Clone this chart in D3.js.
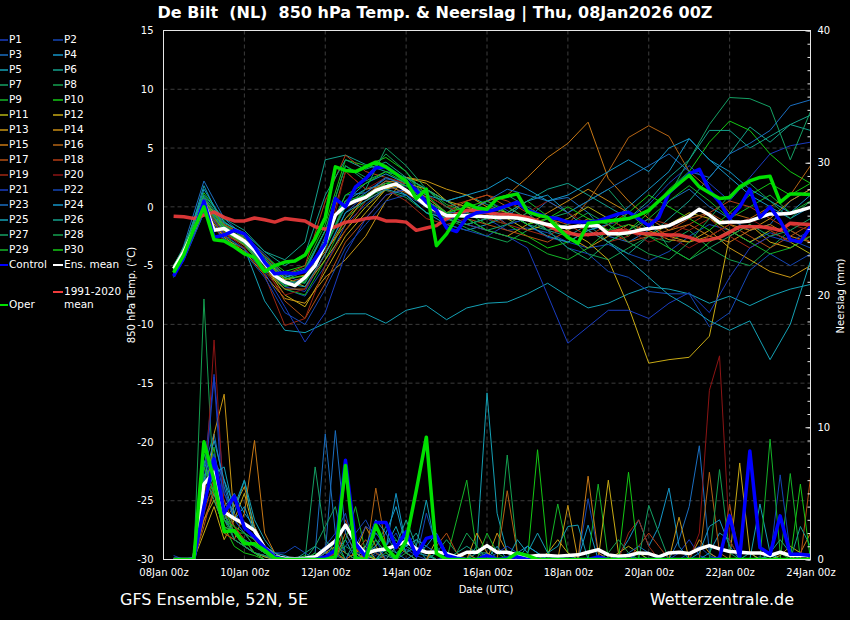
<!DOCTYPE html>
<html>
<head>
<meta charset="utf-8">
<script src="https://cdn.jsdelivr.net/npm/d3@7"></script>
<style>
  body { margin: 0; background: #000; }
  text { font-family: "DejaVu Sans", sans-serif; fill: #fff; }
</style>
</head>
<body>
<svg id="chart" width="850" height="620"></svg>
<script>
// run 08Jan2026 00Z, values every 6 h from +6 h to +384 h
const runStart = Date.UTC(2026, 0, 8, 0)
const stepHours = d3.range(6, 385, 6)
const memberHours = [6].concat(d3.range(12, 385, 12))
const xTickDays = d3.range(0, 17, 2)
const tempTicks = d3.range(-30, 16, 5)
const precipTicks = [0, 10, 20, 30, 40]

const memberNames = d3.range(1, 31).map(n => "P" + n)
const memberColors = ["#1a3cc0", "#1446b4", "#1a6ec0", "#1496c8", "#14a0b4", "#14a08c", "#14a064", "#14a050", "#14b428", "#14c814",
  "#b4b414", "#c8aa14", "#c89614", "#c88c14", "#c87814", "#b46414", "#b45014", "#b43c14", "#a02814", "#8c1414"]

const controlTemp = [-5.9,-4.3,-2.0,0.5,-2.6,-2.4,-2.0,-2.3,-3.4,-4.7,-5.7,-5.6,-5.7,-5.5,-4.4,-3.1,0.7,0.0,1.7,2.4,3.3,3.4,2.8,2.2,1.4,0.4,-0.3,-1.8,-2.1,-0.9,-0.5,-0.4,-0.2,0.1,0.4,-0.3,-0.6,-0.9,-1.0,-1.3,-1.3,-1.3,-1.2,-0.9,-0.6,-0.45,-1.0,-1.6,-0.9,1.2,2.0,2.8,3.2,1.4,0.4,-1.0,0.0,1.5,-0.9,0.0,-1.2,-2.8,-3.0,-1.7]
const operTemp = [-5.6,-4.1,-1.9,0.0,-2.8,-2.9,-3.4,-4.0,-4.3,-5.5,-5.0,-4.7,-4.6,-4.1,-2.7,-0.9,3.4,3.1,3.0,3.4,3.8,3.4,2.8,2.2,0.7,1.5,-3.3,-2.3,-0.9,0.3,-0.1,-0.2,0.7,0.9,1.1,-0.4,-0.7,-0.9,-1.8,-2.6,-3.1,-1.4,-1.3,-1.2,-1.1,-1.0,-0.7,-0.3,0.5,1.25,2.0,2.7,1.7,1.2,0.7,0.8,1.7,2.2,2.5,2.6,0.4,1.1,1.1,1.05]
const meanTemp = [-5.25,-3.85,-2.0,0.4,-2.0,-1.85,-2.4,-2.9,-3.7,-4.8,-5.85,-6.4,-6.7,-6.0,-5.0,-3.1,-0.7,0.1,0.5,0.8,1.4,1.7,1.95,1.4,0.8,0.1,-0.3,-0.75,-0.75,-0.75,-0.8,-0.85,-0.9,-0.9,-0.95,-1.1,-1.3,-1.5,-1.7,-1.75,-1.65,-1.6,-1.6,-2.3,-2.3,-2.2,-2.0,-1.85,-1.75,-1.6,-1.2,-0.8,-0.2,-0.7,-1.35,-1.3,-1.3,-1.2,-0.9,-0.6,-0.6,-0.55,-0.3,-0.05]
const climateTemp = [-0.8,-0.85,-1.0,-0.7,-0.45,-0.9,-1.2,-1.2,-0.95,-1.1,-1.3,-1.0,-1.1,-1.2,-1.7,-1.9,-1.7,-1.3,-1.2,-1.0,-0.9,-1.2,-1.2,-1.3,-2.0,-1.8,-1.6,-1.0,-0.6,-0.3,-0.35,-0.5,-0.6,-0.65,-0.75,-0.9,-1.2,-1.6,-2.0,-2.2,-2.4,-2.35,-2.3,-2.2,-2.0,-2.1,-2.25,-2.3,-2.35,-2.4,-2.4,-2.6,-2.9,-2.8,-2.6,-2.15,-1.7,-1.7,-1.7,-1.8,-2.0,-1.4,-1.45,-1.5]

const controlPrecip = [0,0,0,4.0,7.6,3.5,4.8,2.4,1.7,0.9,0.2,0,0,0,0,0.2,0.7,7.5,1.2,0.2,2.8,2.8,0.9,2.1,0.3,1.6,1.8,0.3,0.1,0,0,0.3,0,0.1,0.2,0,0,0,0,0,0,0,0.2,0,0,0,0,0,0,0,0,0,0,0,0.1,3.3,0.15,8.2,0.9,0.4,3.3,0.4,0.4,0.3]
const operPrecip = [0,0,0,8.9,6.0,2.1,2.2,1.2,1.2,0.7,0.1,0,0,0,0,0,0.2,7.1,0.1,0,2.6,0.9,0.1,1.4,5.2,9.25,0.45,0,0,0,0,0,0,0,0.5,0.3,0,0,0,0,0,0,0,0,0,0,0,0,0,0,0,0,0,0,0,0,0,0,0,0,0,0,0,0]
const meanPrecip = [0,0,0,5.7,6.6,3.6,3.1,2.7,2.2,0.9,0.2,0.1,0.05,0.1,0.2,0.8,1.4,2.6,1.3,0.45,0.7,0.8,1.05,1.4,0.8,0.55,0.55,0.45,0.2,0.55,0.55,1.05,0.55,0.55,0.35,0.2,0.3,0.3,0.25,0.3,0.35,0.55,0.75,0.35,0.25,0.3,0.5,0.45,0.2,0.5,0.55,0.45,0.8,1.05,0.8,0.6,0.55,0.5,0.5,0.3,0.55,0.3,0.3,0.3]

// P1..P30, 850 hPa temperature at memberHours
const memberTemp = [
  [-5.9,-4.3,0.3,-2.0,-2.6,-4.5,-6.8,-7.2,-4.0,-0.5,1.0,2.2,1.5,0.0,-1.2,-0.5,0.5,-0.3,-1.5,-2.6,-3.0,-2.0,-1.5,-1.0,0.2,2.0,3.5,2.0,0.5,2.5,4.5,5.2,5.5],
  [-5.6,-4.0,0.8,-2.3,-3.2,-5.0,-7.0,-7.6,-5.0,-1.5,0.2,1.5,1.8,0.8,-0.5,-1.5,-1.0,-2.0,-1.8,-2.2,-3.0,-3.5,-3.2,-4.0,-4.6,-3.8,-2.5,-1.5,-2.0,-3.0,-2.2,-2.8,-3.5],
  [-5.5,-3.3,2.2,-1.0,-2.5,-4.0,-5.8,-6.5,-2.5,1.0,1.2,2.4,2.0,0.5,-1.0,-0.4,-0.2,-1.5,-1.0,0.5,0.8,-0.5,-2.5,-3.0,-2.0,0.5,1.5,0.0,-1.0,-2.0,-1.5,0.5,1.5],
  [-5.0,-3.6,0.5,-1.5,-3.0,-5.5,-6.0,-5.5,-2.0,0.5,1.5,2.0,1.0,-0.5,-1.5,-2.0,-1.5,-0.8,0.5,1.0,-0.5,-2.0,-1.5,0.0,1.5,3.0,5.8,4.0,3.0,1.5,0.5,-0.5,1.0],
  [-6.0,-4.5,-0.5,-2.8,-3.5,-8.0,-10.5,-10.7,-9.9,-9.1,-9.1,-9.9,-8.8,-8.4,-9.6,-8.6,-8.2,-8.1,-7.4,-6.5,-7.6,-8.6,-8.2,-7.4,-6.8,-7.0,-7.4,-8.2,-7.6,-8.4,-7.6,-7.0,-6.6],
  [-5.3,-3.5,0.9,-1.4,-2.2,-3.8,-4.5,-3.0,4.0,4.4,3.6,3.0,2.5,1.5,0.5,1.0,0.2,-0.5,-1.5,-2.0,-2.5,-1.5,-3.0,-4.0,-2.5,-1.0,0.5,2.5,4.5,6.8,5.5,7.0,7.8],
  [-5.4,-3.8,0.2,-2.2,-3.0,-4.6,-6.2,-5.5,-2.0,3.5,2.2,3.0,2.5,1.0,0.0,-0.5,0.5,1.0,0.0,-1.0,-0.5,0.5,1.5,-0.5,-2.0,1.0,4.0,7.0,9.3,9.2,8.5,4.0,8.1],
  [-5.2,-3.9,0.6,-1.7,-3.3,-5.2,-6.8,-6.3,-3.5,0.3,1.0,1.4,0.8,-0.5,-1.0,-1.8,-2.5,-3.0,-2.0,-1.0,-2.5,-4.0,-4.5,-3.5,-2.5,-3.0,-2.0,-3.5,-4.5,-5.0,-3.5,-2.0,-3.0],
  [-5.5,-4.0,0.0,-2.5,-3.6,-5.5,-7.0,-7.5,-4.5,-1.0,0.5,2.0,2.5,1.5,0.2,-0.5,-1.5,-0.5,0.5,-0.8,-2.0,-1.0,-1.5,-2.5,-1.0,0.5,1.8,0.5,-1.0,0.0,1.0,-0.5,0.5],
  [-5.0,-3.5,1.2,-1.2,-2.8,-4.2,-5.5,-5.0,-1.5,4.0,3.5,4.2,3.0,1.0,-0.5,0.0,-1.0,-1.5,-2.5,-3.5,-3.0,-2.0,-3.0,-2.0,-0.5,1.5,3.0,5.5,7.3,6.5,4.5,3.0,2.0],
  [-5.3,-3.7,0.5,-1.5,-2.5,-4.5,-6.0,-6.8,-4.5,-2.0,0.0,1.5,2.0,1.5,0.5,0.0,-0.5,-1.0,-2.0,-1.5,-1.0,0.0,-1.0,-2.0,-2.5,-1.5,-0.5,-1.0,-2.0,-3.0,-2.0,-3.0,-4.0],
  [-5.4,-4.1,0.1,-2.0,-3.2,-5.0,-7.5,-8.5,-5.5,-2.5,-0.5,1.5,2.5,2.0,0.5,-0.5,-1.0,-0.5,-1.5,-1.0,-2.0,-3.0,-4.5,-8.5,-13.3,-13.0,-12.8,-11.0,-2.5,-1.5,-3.0,-3.5,-2.5],
  [-5.6,-4.2,-0.3,-2.6,-3.8,-5.8,-7.8,-8.2,-6.0,-4.5,-2.5,0.5,2.5,2.2,1.5,1.0,0.0,-0.5,-1.0,-1.5,-2.5,-3.5,-2.5,-1.5,-2.0,-2.8,-3.0,-2.0,-3.5,-4.5,-5.5,-6.0,-5.0],
  [-5.1,-3.6,0.7,-1.8,-2.7,-4.6,-6.2,-5.8,-3.8,-1.5,1.0,2.0,1.5,0.0,-1.0,-1.5,-2.0,-2.5,-1.5,-0.5,0.5,1.5,0.5,-0.5,-1.5,-2.5,-3.0,-2.5,-1.5,-2.0,-1.0,0.5,1.5],
  [-5.0,-3.5,0.3,-1.6,-3.0,-5.2,-7.0,-7.0,-4.0,-1.0,1.0,2.2,2.0,0.8,-0.5,-0.5,0.5,1.0,2.5,4.2,5.4,7.2,2.4,0.5,-1.0,-2.0,-1.5,-2.5,-3.0,-2.0,-1.5,-2.5,-3.0],
  [-5.7,-4.0,0.0,-2.2,-3.3,-5.0,-6.5,-6.0,-3.0,3.0,1.5,1.8,1.2,0.0,-0.5,0.5,1.0,0.0,-1.0,-2.0,-1.5,0.5,3.0,5.9,6.9,6.0,3.0,1.5,-0.5,-1.0,0.0,1.0,3.5],
  [-5.4,-3.8,0.0,-2.5,-3.0,-5.0,-8.0,-9.5,-6.5,-3.0,-1.0,1.0,1.5,0.5,-0.5,-1.0,-1.5,-2.0,-2.5,-3.0,-2.0,-1.0,-2.0,-3.0,-2.5,-2.0,-1.0,-0.5,-1.5,-2.5,-3.5,-2.5,-1.5],
  [-5.2,-3.6,0.4,-1.5,-2.4,-4.2,-5.8,-5.0,0.5,4.4,3.0,2.5,2.0,1.0,0.0,0.5,1.0,0.5,-0.5,-1.0,-1.5,-2.5,-1.5,-0.5,-1.5,-2.5,-1.5,-0.5,0.5,0.0,-1.0,-2.0,-3.0],
  [-5.8,-4.4,-0.2,-3.0,-3.5,-5.8,-10.1,-9.5,-5.0,-2.0,0.5,1.5,0.5,-1.0,-1.5,-1.0,-0.5,-1.5,-2.0,-2.5,-1.5,-2.0,-3.0,-2.5,-1.0,-1.5,-2.0,-1.0,-2.5,-3.5,-2.5,-1.5,-2.0],
  [-5.5,-4.0,0.2,-2.2,-3.5,-5.5,-7.5,-7.0,-4.0,3.0,1.5,2.5,2.0,1.0,0.0,-0.5,-1.0,-1.5,-0.5,0.5,-0.5,-1.5,-1.0,-2.0,-3.0,-2.5,-3.5,-2.5,-1.5,-1.0,-2.0,-3.0,-2.5],
  [-5.7,-4.3,0.0,-2.4,-3.6,-5.6,-8.5,-11.5,-9.0,-4.0,-1.0,1.0,1.5,0.5,-0.5,-1.5,-2.0,-2.5,-3.5,-7.5,-11.6,-10.2,-8.8,-8.8,-9.5,-8.2,-7.3,-9.0,-6.0,-3.5,-2.5,-3.0,-2.0],
  [-5.9,-4.6,-0.5,-2.7,-3.9,-6.0,-9.0,-10.0,-7.0,-3.5,-1.5,0.5,1.0,0.0,-1.5,-2.0,-2.5,-1.5,-1.0,-2.0,-3.5,-4.0,-5.5,-6.0,-7.2,-7.4,-7.4,-10.2,-9.0,-5.4,-4.0,-5.0,-4.0],
  [-5.6,-4.1,0.6,-1.9,-2.9,-4.9,-6.6,-6.2,-3.2,0.0,1.2,2.5,1.8,0.5,-0.5,-0.5,0.5,1.5,1.0,0.5,-0.5,0.5,1.5,2.5,3.5,4.5,3.0,2.5,4.5,5.4,6.5,8.6,9.1],
  [-5.3,-3.9,1.5,-1.3,-2.3,-4.3,-6.0,-5.3,-2.0,0.5,2.0,2.8,2.0,1.0,0.5,1.0,1.5,2.5,1.5,0.5,1.0,2.0,3.0,4.0,3.0,5.0,5.8,4.0,2.5,1.0,0.0,-1.0,0.0],
  [-5.5,-3.9,1.8,-1.8,-3.1,-5.0,-6.5,-6.8,-4.0,-0.5,0.5,1.5,1.0,-0.5,-1.0,-1.5,-1.0,-0.5,-1.5,-2.5,-3.0,-2.0,-3.0,-4.5,-6.0,-7.5,-8.5,-9.7,-10.5,-9.7,-13.0,-10.0,-4.6],
  [-5.0,-3.4,1.0,-1.0,-2.0,-3.8,-5.0,-4.0,1.0,4.0,3.2,3.8,2.5,1.5,0.5,-0.5,-1.0,-0.5,0.5,1.5,2.0,1.0,0.0,-1.0,0.5,2.5,4.0,6.5,6.5,5.0,6.0,7.0,6.5],
  [-5.4,-3.9,0.3,-1.9,-3.1,-4.9,-6.3,-6.5,-3.5,0.0,1.5,5.0,3.5,1.5,0.0,-1.0,-2.0,-1.5,-0.5,-2.0,-3.5,-4.5,-3.0,-2.0,-1.0,-3.5,-4.5,-3.5,-2.5,-1.5,-2.5,-2.0,-1.0],
  [-5.2,-3.7,0.8,-1.6,-2.6,-4.4,-5.8,-5.2,-2.0,3.5,2.5,4.5,3.0,0.5,-1.0,-1.5,-1.0,0.0,-1.0,-2.0,-1.5,-0.5,-1.5,-3.0,-4.0,-4.5,-3.0,-1.0,1.0,2.0,0.5,-1.0,0.5],
  [-5.6,-4.0,0.2,-2.1,-3.2,-5.2,-6.7,-6.4,-3.5,0.5,1.0,2.0,1.8,0.5,-0.5,-1.0,-2.0,-2.5,-3.0,-4.0,-4.5,-3.5,-2.0,-1.5,-2.5,-3.5,-4.5,-3.0,-2.0,-3.0,-4.0,-3.5,-2.5],
  [-5.3,-3.8,0.5,-1.7,-2.8,-4.6,-6.1,-5.9,-2.8,1.0,2.0,3.0,2.0,0.5,-0.5,0.0,0.5,-0.5,-1.5,-1.0,0.0,-1.0,-2.0,-0.5,1.0,0.0,-1.0,-2.0,-0.5,1.0,2.0,1.0,2.0]
]

// P1..P30, 6-hourly precipitation (mm) at stepHours
const memberPrecip = [
  [0,0,0.2,6.5,14.0,5.0,3.5,2.5, 1.5,1.0,0.3,0,0,0,0,0.5, 1.5,2.5,1.0,0.3,1.5,0.5,0,0.8, 0.3,0,0,0.2,0,0,0.5,0.3, 0,0,0,0,0.2,0,0,0, 0,0,0,0,0,0.3,0,0, 0,0,0.5,1.5,0.3,0,0,0, 0,0,0.2,0,0,0,0,0],
  [0,0,0,5.5,8.0,4.0,2.0,1.5, 1.0,0.5,0.2,0,0,0,0.3,1.0, 2.0,3.5,0.5,0,0.3,1.0,2.0,0.5, 0,0,0,0,0.3,0.5,0,0, 0,0.2,0,0,0,0,0,0.3, 0,4.6,0.5,0,0,0,0,0, 0,0,0,0.5,1.0,0.3,0,0, 0,0.5,0,0,0,0,0,0],
  [0,0,0,7.0,9.5,5.5,3.0,2.0, 1.5,0.5,0,0,0,0,0.5,9.5, 2.0,0.5,0,0,0.5,1.0,0,0, 0,0,0.5,0,0,0,0,0, 0,0,0,0,0,0.3,0,0, 0,0,0,0,0,0,0.5,0, 0,0,1.5,4.0,8.6,0.5,0,0, 0,0,0,0,0,0,0,0],
  [0,0,0,4.5,6.5,4.0,5.0,3.5, 2.5,1.0,0.5,0.3,0,0,0,0, 0.5,1.5,0,0.5,0,0.8,5.0,1.0, 0.5,0.3,0,0,0,0,0,0.5, 0,0,0,1.0,0.5,0,0,0, 0,2.6,0,0,0.3,1.5,3.0,1.0, 2.5,5.4,1.0,0,0,0.5,2.0,1.5, 0,0,0,0,0,0,0,0],
  [0,0,0,6.0,7.5,6.0,4.0,6.0, 3.0,1.5,0.5,0,0,0,0,0, 0,0,0,0,0,0.3,0,0, 0,0,0,0,0,0,1.0,12.6, 3.5,0.5,0,0,0,0,0,0, 0,0,0,0,0,0,0,0, 0,0,0,0,0,0,0,0, 0,0,0,0.3,0,0,0,0],
  [0,0,0,4.0,5.5,3.5,2.0,1.5, 0.5,0.3,0,0,0,0.5,1.0,0.5, 0.3,0,1.5,0.5,2.0,1.0,0.5,1.0, 2.0,0.5,0,0,0.5,1.0,0.5,0.5, 0,0,0,0,0,0,0,0, 0,0,0,0,0,0,0,0, 0,0,0,0,0,0,0,0, 0,0,0,0.5,1.5,0.5,0,0],
  [0,0,0,8.0,6.0,4.0,2.5,1.5, 1.0,0.5,0.2,0,0,0,7.0,1.5, 0.5,1.0,0.5,0,1.0,2.5,1.5,0.5, 0,0,0.5,1.5,0.5,0,0.5,1.0, 0,0,0,0,0,0,0,0, 0,0,0,0,0,0,0,0, 0,0,0,0,0,0,0,0, 0,0.5,0,0,0,0,0,0],
  [0,0,0,19.7,5.0,3.0,1.5,1.0, 0.5,0.2,0,0,0,0,0,0, 0,0,0,0.5,1.0,0,0,0.5, 1.5,0.5,0,0,0,0,0,0, 0,7.9,0.5,0,0,0,0,0, 0,0,0,0,0,0,0,0, 0,0,0,0,0,0,0,0, 0,0,0,0,0,0,0,0],
  [0,0,0,5.0,8.5,3.0,2.0,2.0, 1.5,0.5,0,0,0,0.3,0,0, 0,1.5,4.0,0.5,0,0,0,0, 0,0,0,0,3.0,6.0,0.5,0, 0,0,0,0,0,0,4.2,0.5, 0,0,5.7,0,0,0,0,0, 0,0,0,0,0,0,0,0, 0,0,0,0,0,6.5,0,0],
  [0,0,0,9.0,6.0,2.5,1.0,0.5, 0.3,0,0,0,0,0,0.5,0, 1.0,0,0,0,0,0,0,0, 0,0,0,0,0,0,0,0, 0,0,0,0,8.3,0.5,0,0, 0,0,0,0,0,0,0,0, 0,0,0,0,0,0,0,0, 0,0,0,0,0,0,0,0],
  [0,0,0,3.0,4.5,2.5,2.0,1.0, 0.5,0.2,0,0,0,0,0,0.5, 0.5,0,0,0.3,0,0,0,0, 0,0,1.5,0.5,0,0,0,0, 0,0,0,0,0,0,0,0, 0,0,0,0,0.5,1.0,0.5,0, 0,0,0,0,0,0,0,0, 0,0,0,0,0.3,1.0,0.5,0],
  [0,0,0,2.0,4.0,1.5,3.0,5.0, 2.0,1.0,0.5,0,0,0,0,0, 0,0,0.5,1.0,0,0,0,0, 0,0,0,0,0,0,0,0, 0,0,0,0,0,0.5,1.5,0.5, 0,0,0,6.0,0.5,0,0,0, 0,0,0,0,0,0,0,0, 7.3,0.5,0,0,0,0,0,0],
  [0,0,0,3.5,9.5,12.5,3.0,2.5, 1.5,0.5,0,0,0,0,0,0.5, 1.0,0.5,0,0,0,0,0,0, 0,0,0,0,0,0,2.0,0.5, 0,0,0,0,0,0,0,4.1, 0,0,0,0,0,0,0,0, 0,0,3.2,0,0,0,0,0, 0,0,0,0,0,0,0,0],
  [0,0,0,4.0,7.0,3.0,4.0,5.5, 2.5,1.0,0.3,0,0,0,0,0, 0,0,0.5,2.5,1.0,0,0,0, 0,0,0,0,0,0,0,0, 2.0,0.5,0,0,0,0,0,0, 0,0,0,0,0,0,0,0, 0,0,0,0,1.5,0.5,0,0, 0,0,0,0,0,0,0,0],
  [0,0,0,3.0,5.0,2.0,1.5,3.5, 9.0,2.0,0.5,0,0,0,0,0, 0,2.0,0.5,0,0,0,1.0,0.5, 0,0,0,0,0,0.5,0,0, 0,0,0,0,0,0,0,0, 0,6.3,0.5,0,0,0,0,0, 0,0,0,0,0,0,0,0, 0,0,0,0,0,0,0.5,2.0],
  [0,0,0,4.5,6.0,4.5,2.5,1.5, 1.0,0.5,0,0,0,0,0,0, 0,0,0,0,5.4,1.0,0,0, 0,0,0,0,0,0,0,0, 0,5.2,0.5,0,0,0,0,0, 0,0,0,0,0,0,0,0, 0,0,0,0,0,6.6,0.5,0, 0,0,0,0,0,0,0,0],
  [0,0,0,2.5,5.5,3.0,2.0,1.0, 0.5,0,0,0,0,0,0,0, 0.5,0,0.5,1.5,0.5,0,0,0, 0,0,1.0,2.0,0.5,0,0,0, 0,0,0,0,0,0,0,0, 0,0,0,0,0,0,0,0, 0,0,0,0,0,0,0,4.2, 0,0,0,0,0,0,0,6.2],
  [0,0,0,5.0,7.0,2.0,1.5,1.0, 0.5,0.3,0,0,0,0,0,0, 0,3.0,1.0,0,0,0,0,0, 0,0,0,0,0,0,0,0, 0,0,0,0,0,0,0,0, 0,0,0,0,0,0,1.0,2.0, 1.0,0,0,0,0,0,0,0, 0,0,0,0,0,0,0,0],
  [0,0,0,3.5,6.0,3.5,2.5,1.5, 0.5,0,0,0,0,0,0,0, 0.5,6.2,1.0,0,0,0,0,0, 0,0,0,0,0,0,0,0, 0,0,0,0,0,0,0,0, 0,0,0,0,0,2.0,3.0,1.0, 0,0,0,0,0,0,0,0, 0,0,0,0,0,0,0,0],
  [0,0,0,4.0,16.6,4.0,2.0,1.0, 0.5,0,0,0,0,0,0,0, 0,0,0,0,0,0,0,0, 0,0,0,0,0,0,0,0, 0,0,0,0,0,0,0,0, 0,0,0,0,0,0,0,0, 0,0,0,0,2.0,12.8,15.4,1.5, 0,0,0,0,0,0,0,0],
  [0,0,0,5.0,13.8,3.0,2.0,1.5, 1.0,0.5,0,0,0,0,0,0, 0,0,1.0,2.5,2.0,1.0,0,0, 0,0,0,0,0,0,0,0, 0.5,1.0,0.5,0,0,0,0,0, 0,0,0,0,0,0,0,0, 0,0,0,0,0,0,0,0, 0,0,0,0,0,0,0,0],
  [0.3,0,0,6.0,8.0,5.0,3.0,2.0, 1.0,0.5,0.5,0.5,1.0,0.5,0,0, 0,1.0,2.0,3.0,1.5,0,0,0, 0,3.5,1.0,0,0,0,0,0, 0,0,0,0,0,0,0,0, 0,0,0,0,0,0,0,0, 0,0,0,0,0,0,0,0, 0,0,0,0,6.4,0.5,0,0],
  [0,0,0,5.5,7.5,3.5,1.5,1.0, 0.5,0.3,0,0,0,0,0,0.5, 9.75,2.0,0.5,0.5,1.0,2.0,0.5,0, 0.5,1.0,0.5,0,0,0,0,0, 0,0,0,0,0,0,0,0, 0,0,0,0,0,0.5,1.0,0.5, 0,0,0,0,0,0,0,0, 0,0,0,0,0,0,0,0],
  [0,0,0,6.0,9.0,6.0,3.0,4.0, 2.0,1.0,0.3,0,0,0,0,0, 0,0,0,1.0,3.0,2.0,4.0,1.0, 1.5,1.0,2.0,0.5,0,0,0,0, 1.0,0,0.5,1.0,0.5,0,0,0, 0,0,0,0,0,0,0,0, 0,0,0,0,0.5,2.5,3.0,1.0, 0,0,0,0,0,0,0,0],
  [0,0,0,4.5,6.5,7.0,3.5,6.0, 2.0,1.0,0.5,0,0,0,0,0, 0,0,0,0,0,1.0,2.5,0.5, 1.0,4.5,0.5,0,0,0,0,0, 0,0,1.5,0.5,2.0,0.5,1.0,2.5, 2.6,0,0,0,0,0,0,0, 0,0,0,0,0,0,0,0, 0,0,4.2,0.5,0,0,0,0],
  [0,0,0,7.5,5.0,3.0,2.0,1.0, 0.5,0,0,0,0,0,0,0, 1.5,0,0,0,0,0,1.0,3.0, 1.0,0,0,0,0,0,0,0, 0,0,0,0,0,0,0,0, 0,0,0,0,0,0,0,0, 0,0,0,0,0,0,0,0, 0,0,0,0,0,0,2.5,1.0],
  [0,0,0,6.5,4.5,2.5,2.0,1.5, 1.0,0.5,0,0,0,0,1.0,2.5, 4.0,0.5,0,0,0,0,0,0, 0,0,0,0,0,0,0,0, 0,0,0,0,0,0,0,0, 0,0,0,0,0,0,0,4.1, 2.0,0,0,0,0,0,0,0, 0,0,0,0,0,0,0,0],
  [0,0,0,8.5,6.0,3.5,1.5,1.0, 0.5,0.3,0,0,0,0,0,0, 0,0,0,0,0,0.5,1.5,0.5, 0,0,0,0,0.5,2.0,1.0,0, 0,0,0,0,0,0,0,0, 0,0,0,0.5,1.5,0.5,0,0, 0,0,0,0,0,0,6.8,0.5, 0,0,0,0,0,0,0,0],
  [0,0,0,5.0,5.5,3.0,2.5,2.0, 1.0,0.5,0,0,0,0,0,0, 0,0,0,0,0,0,0,0, 0,0,0,0,0,0,0,2.0, 0.5,0,0,0,0,0,0,0, 0,0,0,0,0,0,0,0, 0,0,0,0,0,0,0,0, 0,0,0,9.1,0.5,0,0,0],
  [0,0,0,7.0,5.0,4.0,2.0,1.5, 0.5,0,0,0,0,0,0,0, 0,0,0,0,1.5,0.5,0,0, 0,0,0,0,0,0,0,0, 0,0,0,0,0,0,0,0, 0,0,0,0,0,6.6,0,0, 0,0,0,0,0,0,0,0, 0,0,0,0,0,0,5.7,0]
]

const W = 850, H = 620
const M = {left: 163.5, right: 810.5, top: 30.5, bottom: 559.5}

const svg = d3.select("#chart")
svg.append("rect").attr("width", W).attr("height", H).attr("fill", "#000")

const x = d3.scaleUtc()
  .domain([new Date(runStart), new Date(runStart + 16 * 864e5)])
  .range([M.left, M.right])
const yT = d3.scaleLinear().domain([-30, 15]).range([M.bottom, M.top])
const yP = d3.scaleLinear().domain([0, 40]).range([M.bottom, M.top])

const hourDate = h => new Date(runStart + h * 36e5)
const pairs = (hours, vals) => vals.map((v, i) => [hourDate(hours[i]), v])
const tempLine = d3.line().x(d => x(d[0])).y(d => yT(d[1]))
const precipLine = d3.line().x(d => x(d[0])).y(d => yP(d[1]))

svg.append("clipPath").attr("id", "plotclip")
  .append("rect")
  .attr("x", M.left).attr("y", M.top)
  .attr("width", M.right - M.left).attr("height", M.bottom - M.top)

// dashed grid
const grid = svg.append("g").attr("stroke", "#3c3c3c").attr("stroke-dasharray", "4,3")
grid.selectAll("line.h")
  .data(tempTicks.filter(t => t > -30 && t < 15))
  .join("line")
  .attr("x1", M.left).attr("x2", M.right)
  .attr("y1", d => yT(d)).attr("y2", d => yT(d))
grid.selectAll("line.v")
  .data(xTickDays.filter(d => d > 0 && d < 16))
  .join("line")
  .attr("y1", M.top).attr("y2", M.bottom)
  .attr("x1", d => x(hourDate(d * 24))).attr("x2", d => x(hourDate(d * 24)))

const plot = svg.append("g").attr("clip-path", "url(#plotclip)").attr("fill", "none")

memberTemp.forEach((vals, m) => {
  plot.append("path")
    .attr("d", tempLine(pairs(memberHours, vals)))
    .attr("stroke", memberColors[m % 20])
    .attr("stroke-width", 1)
})
memberPrecip.forEach((vals, m) => {
  plot.append("path")
    .attr("d", precipLine(pairs(stepHours, vals)))
    .attr("stroke", memberColors[m % 20])
    .attr("stroke-width", 1)
})

function thick(gen, vals, color, opacity) {
  plot.append("path")
    .attr("d", gen(pairs(stepHours, vals)))
    .attr("stroke", color)
    .attr("stroke-width", 3.5)
    .attr("stroke-opacity", opacity || 1)
    .attr("stroke-linejoin", "round")
}

thick(tempLine, climateTemp, "#f03c3c", 0.9)
thick(tempLine, meanTemp, "#ffffff")
thick(precipLine, meanPrecip, "#ffffff")
thick(tempLine, controlTemp, "#0000ff")
thick(precipLine, controlPrecip, "#0000ff")
thick(tempLine, operTemp, "#00e000")
thick(precipLine, operPrecip, "#00e000")

// frame
svg.append("rect")
  .attr("x", M.left).attr("y", M.top)
  .attr("width", M.right - M.left).attr("height", M.bottom - M.top)
  .attr("fill", "none").attr("stroke", "#e6e6e6").attr("stroke-width", 1)

// axes
const leftAxis = svg.append("g")
  .attr("transform", `translate(${M.left},0)`)
  .call(d3.axisLeft(yT).tickValues(tempTicks).tickSize(0).tickPadding(10).tickFormat(d => String(d)))
const rightMinor = svg.append("g")
  .attr("transform", `translate(${M.right},0)`)
  .call(d3.axisRight(yP).tickValues(d3.range(0, 41)).tickSize(-3).tickFormat(""))
const rightAxis = svg.append("g")
  .attr("transform", `translate(${M.right},0)`)
  .call(d3.axisRight(yP).tickValues(precipTicks).tickSize(-5).tickPadding(7))
const bottomAxis = svg.append("g")
  .attr("transform", `translate(0,${M.bottom})`)
  .call(d3.axisBottom(x)
    .tickValues(xTickDays.map(d => hourDate(d * 24)))
    .tickSize(0).tickPadding(9)
    .tickFormat(d3.utcFormat("%d%b %Hz")))

;[leftAxis, rightMinor, rightAxis, bottomAxis].forEach(g => {
  g.select(".domain").remove()
  g.selectAll("line").attr("stroke", "#e6e6e6")
  g.selectAll("text").attr("fill", "#fff").style("font-size", "10px").attr("font-family", null)
})

svg.append("text")
  .attr("transform", "translate(135,295) rotate(-90)")
  .attr("text-anchor", "middle").style("font-size", "10px")
  .text("850 hPa Temp. (°C)")
svg.append("text")
  .attr("transform", "translate(844,296) rotate(-90)")
  .attr("text-anchor", "middle").style("font-size", "10px")
  .text("Neerslag (mm)")
svg.append("text")
  .attr("x", 486).attr("y", 593)
  .attr("text-anchor", "middle").style("font-size", "10px")
  .text("Date (UTC)")

svg.append("text")
  .attr("x", 435).attr("y", 18)
  .attr("text-anchor", "middle")
  .style("font-size", "16px").style("font-weight", "bold")
  .style("white-space", "pre")
  .text("De Bilt  (NL)  850 hPa Temp. & Neerslag | Thu, 08Jan2026 00Z")

svg.append("text")
  .attr("x", 120).attr("y", 605)
  .style("font-size", "16px")
  .text("GFS Ensemble, 52N, 5E")
svg.append("text")
  .attr("x", 794).attr("y", 605)
  .attr("text-anchor", "end")
  .style("font-size", "16px")
  .text("Wetterzentrale.de")

// legend, two columns on the left
const legend = svg.append("g").style("font-size", "10.5px")
const legendItems = memberNames.map((name, m) => ({
  lines: [name], color: memberColors[m % 20], width: 1.5,
  col: m % 2, y: 40 + 15 * Math.floor(m / 2)
}))
legendItems.push({lines: ["Control"], color: "#0000ff", width: 2, col: 0, y: 265})
legendItems.push({lines: ["Ens. mean"], color: "#ffffff", width: 2, col: 1, y: 265})
legendItems.push({lines: ["Oper"], color: "#00e000", width: 2, col: 0, y: 305})
legendItems.push({lines: ["1991-2020", "mean"], color: "#f03c3c", width: 2, col: 1, y: 292})

legendItems.forEach(it => {
  const x0 = it.col ? 53 : 0
  const tx = x0 + (it.col ? 11 : 9)
  legend.append("line")
    .attr("x1", x0).attr("x2", x0 + (it.col ? 10 : 8))
    .attr("y1", it.y).attr("y2", it.y)
    .attr("stroke", it.color).attr("stroke-width", it.width)
  it.lines.forEach((label, i) => {
    legend.append("text")
      .attr("x", tx).attr("y", it.y + 3 + i * 12.5)
      .text(label)
  })
})
</script>
</body>
</html>
